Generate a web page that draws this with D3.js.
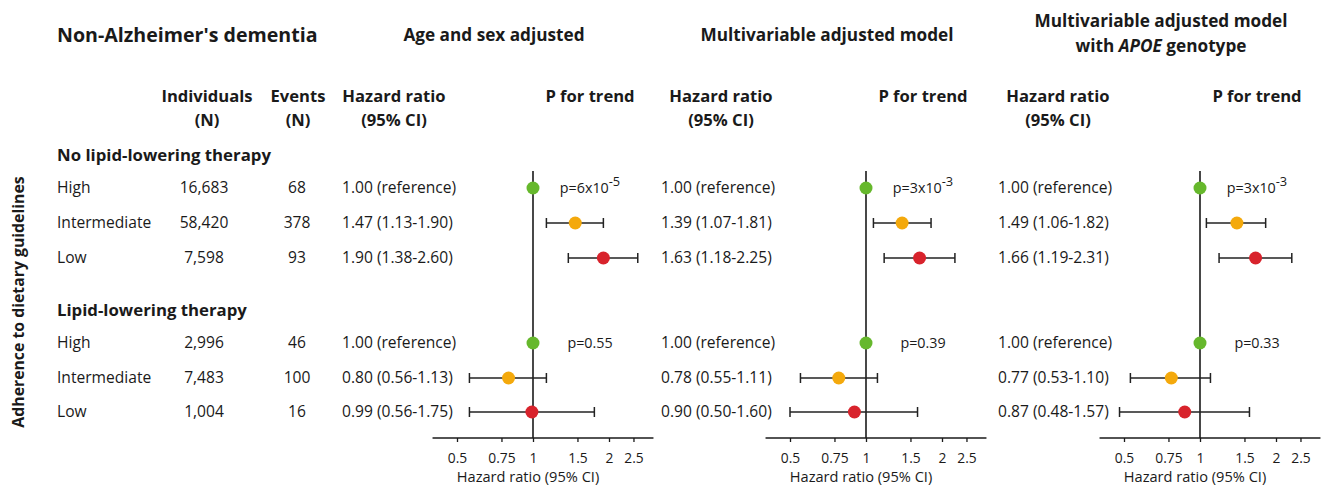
<!DOCTYPE html>
<html>
<head>
<meta charset="utf-8">
<script src="https://cdn.jsdelivr.net/npm/d3@7"></script>
<style>
  body { margin: 0; background: #fff; }
  svg text { font-family: "Open Sans", sans-serif; fill: #1a1a1a; }
  .b { font-weight: bold; }
</style>
</head>
<body>
<script>
// rows and groups
var groups = ["No lipid-lowering therapy", "Lipid-lowering therapy"];
var levels = ["High", "Intermediate", "Low"];
var individuals = [["16,683", "58,420", "7,598"], ["2,996", "7,483", "1,004"]];
var events = [["68", "378", "93"], ["46", "100", "16"]];
var levelColors = ["#66b82c", "#f4a90c", "#d8232c"];

var panelTitles = [["Age and sex adjusted"], ["Multivariable adjusted model"], ["Multivariable adjusted model", "with |APOE| genotype"]];

// hazard ratio labels as printed
var hrLabels = [
  [["1.00 (reference)", "1.47 (1.13-1.90)", "1.90 (1.38-2.60)"], ["1.00 (reference)", "0.80 (0.56-1.13)", "0.99 (0.56-1.75)"]],
  [["1.00 (reference)", "1.39 (1.07-1.81)", "1.63 (1.18-2.25)"], ["1.00 (reference)", "0.78 (0.55-1.11)", "0.90 (0.50-1.60)"]],
  [["1.00 (reference)", "1.49 (1.06-1.82)", "1.66 (1.19-2.31)"], ["1.00 (reference)", "0.77 (0.53-1.10)", "0.87 (0.48-1.57)"]]
];
// plotted estimate, lower, upper (null = no CI)
var hrPoint = [
  [[1.00, 1.47, 1.90], [1.00, 0.80, 0.99]],
  [[1.00, 1.39, 1.63], [1.00, 0.78, 0.90]],
  [[1.00, 1.40, 1.66], [1.00, 0.77, 0.87]]
];
var hrLow = [
  [[null, 1.13, 1.38], [null, 0.56, 0.56]],
  [[null, 1.07, 1.18], [null, 0.55, 0.50]],
  [[null, 1.06, 1.19], [null, 0.53, 0.48]]
];
var hrHigh = [
  [[null, 1.90, 2.60], [null, 1.13, 1.75]],
  [[null, 1.81, 2.25], [null, 1.11, 1.60]],
  [[null, 1.82, 2.31], [null, 1.10, 1.57]]
];
// p for trend: [base, exponent]
var pTrend = [
  [["p=6x10", "-5"], ["p=0.55", null]],
  [["p=3x10", "-3"], ["p=0.39", null]],
  [["p=3x10", "-3"], ["p=0.33", null]]
];
var tickValues = [0.5, 0.75, 1, 1.5, 2, 2.5];
var domain = [0.4, 3];

var W = 1323, H = 488;
var svg = d3.select("body").append("svg").attr("width", W).attr("height", H);

// layout
var panelOne = [533, 866, 1200];     // x position of HR = 1
var hrTextX = [342, 661, 998];
var groupY = [155, 310];
var rowY = [[188, 223, 258], [343, 378, 412]];
var axisY = 438, lineTop = 171;
var fs = 15.6, hfs = 16.6;

svg.append("text").attr("class", "b").attr("x", 57).attr("y", 42)
  .style("font-size", "19.6px").text("Non-Alzheimer's dementia");

// column headers for the left table
function twoLine(x, lines, y0) {
  var t = svg.append("text").attr("class", "b").attr("text-anchor", "middle")
    .style("font-size", hfs + "px");
  lines.forEach(function(l, i) {
    t.append("tspan").attr("x", x).attr("y", y0 + i * 24).text(l);
  });
}
twoLine(207, ["Individuals", "(N)"], 102);
twoLine(298, ["Events", "(N)"], 102);

svg.append("text").attr("class", "b")
  .attr("transform", "translate(24,302) rotate(-90)")
  .attr("text-anchor", "middle").style("font-size", "15.8px")
  .text("Adherence to dietary guidelines");

groups.forEach(function(g, gi) {
  svg.append("text").attr("class", "b").attr("x", 57).attr("y", groupY[gi] + 6)
    .style("font-size", "16.8px").text(g);
  levels.forEach(function(lv, li) {
    var y = rowY[gi][li] + 5;
    svg.append("text").attr("x", 57).attr("y", y).style("font-size", fs + "px").text(lv);
    svg.append("text").attr("x", 204).attr("y", y).attr("text-anchor", "middle")
      .style("font-size", fs + "px").text(individuals[gi][li]);
    svg.append("text").attr("x", 297).attr("y", y).attr("text-anchor", "middle")
      .style("font-size", fs + "px").text(events[gi][li]);
  });
});

panelOne.forEach(function(x1, p) {
  var x = d3.scaleLog().domain(domain).range([x1 - 76 * Math.log2(1 / domain[0]), x1 + 76 * Math.log2(domain[1])]);
  var g = svg.append("g");

  // title (|...| marks italic part)
  var tt = panelTitles[p];
  tt.forEach(function(line, i) {
    var t = g.append("text").attr("class", "b").attr("text-anchor", "middle")
      .attr("x", x1 - 39).attr("y", (tt.length > 1 ? 27 : 41) + i * 25).style("font-size", "17.2px");
    line.split("|").forEach(function(part, k) {
      t.append("tspan").style("font-style", k % 2 ? "italic" : "normal").text(part);
    });
  });

  // headers
  var hx = p === 0 ? 394 : hrTextX[p] + 60;
  var h = g.append("text").attr("class", "b").attr("text-anchor", "middle").style("font-size", hfs + "px");
  h.append("tspan").attr("x", hx).attr("y", 102).text("Hazard ratio");
  h.append("tspan").attr("x", hx).attr("y", 126).text("(95% CI)");
  g.append("text").attr("class", "b").attr("text-anchor", "middle")
    .attr("x", x1 + 57).attr("y", 102).style("font-size", hfs + "px").text("P for trend");

  // reference line
  g.append("line").attr("x1", x(1)).attr("x2", x(1)).attr("y1", lineTop).attr("y2", axisY)
    .attr("stroke", "#1a1a1a").attr("stroke-width", 1.6);

  // axis
  var ax = g.append("g").attr("transform", "translate(0," + axisY + ")")
    .call(d3.axisBottom(x).tickValues(tickValues).tickFormat(d3.format("")).tickSize(4).tickPadding(11));
  ax.select(".domain").attr("stroke", "#1a1a1a").attr("stroke-width", 1.4).attr("d", "M" + x.range()[0] + ",0H" + x.range()[1]);
  ax.selectAll(".tick line").attr("stroke", "#1a1a1a").attr("stroke-width", 1.3);
  ax.selectAll(".tick text").style("font-family", "Open Sans, sans-serif").style("font-size", "13.8px").attr("fill", "#1a1a1a");
  g.append("text").attr("text-anchor", "middle").attr("x", x1 - 5).attr("y", 482)
    .style("font-size", "14.6px").text("Hazard ratio (95% CI)");

  groups.forEach(function(gr, gi) {
    levels.forEach(function(lv, li) {
      var y = rowY[gi][li];
      g.append("text").attr("x", hrTextX[p]).attr("y", y + 5).style("font-size", fs + "px")
        .text(hrLabels[p][gi][li]);
      var lo = hrLow[p][gi][li], hi = hrHigh[p][gi][li];
      if (lo !== null) {
        g.append("line").attr("x1", x(lo)).attr("x2", x(hi)).attr("y1", y).attr("y2", y)
          .attr("stroke", "#222").attr("stroke-width", 1.5);
        [lo, hi].forEach(function(v) {
          g.append("line").attr("x1", x(v)).attr("x2", x(v)).attr("y1", y - 5).attr("y2", y + 5)
            .attr("stroke", "#222").attr("stroke-width", 1.5);
        });
      }
      g.append("circle").attr("cx", x(hrPoint[p][gi][li])).attr("cy", y).attr("r", 6.5)
        .attr("fill", levelColors[li]);
    });
    var pt = pTrend[p][gi];
    var t = g.append("text").attr("text-anchor", "middle").attr("x", x1 + 57)
      .attr("y", rowY[gi][0] + 5).style("font-size", "14.3px");
    t.append("tspan").text(pt[0]);
    if (pt[1]) t.append("tspan").attr("dy", -7).style("font-size", "12.8px").text(pt[1]);
  });
});
</script>
</body>
</html>
